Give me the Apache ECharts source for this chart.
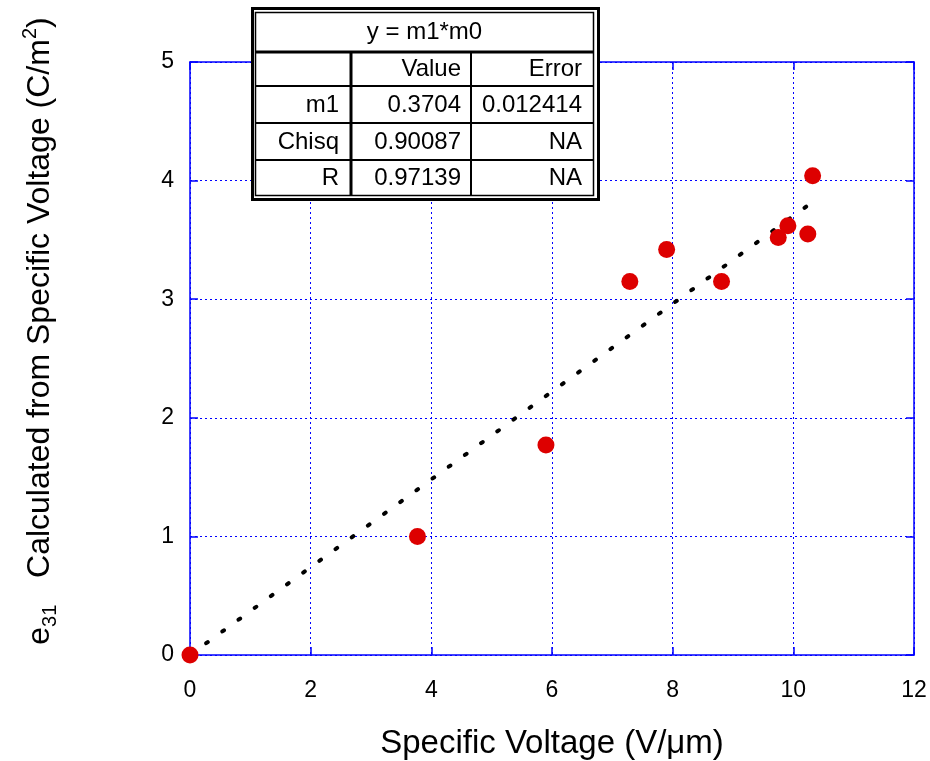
<!DOCTYPE html>
<html>
<head>
<meta charset="utf-8">
<script src="https://cdn.jsdelivr.net/npm/echarts@6/dist/echarts.min.js"></script>
<style>
html,body{margin:0;padding:0;background:#fff;}
#chart{width:930px;height:761px;}
</style>
</head>
<body>
<div id="chart"></div>
<script>
// ---- data ----
const xTickValues = [0, 2, 4, 6, 8, 10, 12];
const yTickValues = [0, 1, 2, 3, 4, 5];
const voltage = [0, 3.77, 5.90, 7.29, 7.90, 8.81, 9.75, 9.91, 10.24, 10.32];
const e31 = [0, 1.00, 1.77, 3.15, 3.42, 3.15, 3.52, 3.62, 3.55, 4.04];
const fitX = [0, 10.32];
const fitY = [0, 3.82];
const tableTitle = 'y = m1*m0';
const tableHeader = ['', 'Value', 'Error'];
const tableRowNames = ['m1', 'Chisq', 'R'];
const tableValues = ['0.3704', '0.90087', '0.97139'];
const tableErrors = ['0.012414', 'NA', 'NA'];
const xTitle = 'Specific Voltage (V/\u03bcm)';

const FONT = '"Liberation Sans", Arial, sans-serif';
const BLUE = '#0000ff';

const points = voltage.map((v, i) => [v, e31[i]]);
const fitLine = fitX.map((v, i) => [v, fitY[i]]);

// ---- table graphic ----
const tbl = [];
const L = 251, T = 7, R = 600, B = 201;
tbl.push({type:'rect', shape:{x:L+1.5, y:T+1.5, width:R-L-3, height:B-T-3}, style:{fill:'#fff', stroke:'#000', lineWidth:3}, z:100});
tbl.push({type:'rect', shape:{x:255.5, y:12.5, width:338, height:183}, style:{fill:'none', stroke:'#000', lineWidth:1.5}, z:101});
const hl = (y, w) => tbl.push({type:'line', shape:{x1:255, y1:y, x2:594, y2:y}, style:{stroke:'#000', lineWidth:w}, z:101});
const vl = (x, w) => tbl.push({type:'line', shape:{x1:x, y1:52, x2:x, y2:196}, style:{stroke:'#000', lineWidth:w}, z:101});
hl(52, 3); hl(86, 2); hl(123, 2); hl(160, 2);
vl(351, 3); vl(471, 2);
const txt = (s, x, y, align) => tbl.push({type:'text', x:x, y:y, style:{text:s, fill:'#000', font:'24px ' + FONT, align:align, verticalAlign:'middle'}, z:102});
txt(tableTitle, 424.5, 32.5, 'center');
const colRight = [339, 461, 582];
const rowCenter = [69.5, 105, 142, 178];
tableHeader.forEach((h, i) => { if (h) txt(h, colRight[i], rowCenter[0], 'right'); });
tableRowNames.forEach((n, r) => {
  txt(n, colRight[0], rowCenter[r+1], 'right');
  txt(tableValues[r], colRight[1], rowCenter[r+1], 'right');
  txt(tableErrors[r], colRight[2], rowCenter[r+1], 'right');
});

// ---- y title (rotated, rich text) ----
const yTitle = {
  type:'text', x:40, y:331, rotation:Math.PI/2, z:50,
  style:{
    text:'{b|e}{s|31}{b|   Calculated from Specific Voltage (C/m}{p|2}{b|)}',
    align:'center', verticalAlign:'middle', fill:'#000',
    rich:{
      b:{fontSize:32, fontFamily:FONT, lineHeight:40, fill:'#000'},
      s:{fontSize:20, fontFamily:FONT, lineHeight:4, verticalAlign:'bottom', fill:'#000'},
      p:{fontSize:20, fontFamily:FONT, lineHeight:10, verticalAlign:'top', fill:'#000'}
    }
  }
};

const axisCommon = {
  type:'value',
  axisLine:{show:true, onZero:false, lineStyle:{color:BLUE, width:1.5}},
  axisTick:{show:true, inside:true, length:8, lineStyle:{color:BLUE, width:1.5}},
};

const chart = echarts.init(document.getElementById('chart'), null, {renderer:'canvas'});
chart.setOption({
  animation:false,
  backgroundColor:'#fff',
  grid:{left:190, top:62, width:724, height:593, containLabel:false, outerBoundsMode:'none'},
  xAxis:[
    Object.assign({}, axisCommon, {
      min:xTickValues[0], max:xTickValues[xTickValues.length-1], interval:2, position:'bottom',
      axisLabel:{color:'#000', fontSize:23, fontFamily:FONT, margin:24},
      splitLine:{show:true, lineStyle:{color:BLUE, width:1, type:[2,3]}},
      name:xTitle, nameLocation:'middle', nameGap:72,
      nameTextStyle:{color:'#000', fontSize:33, fontFamily:FONT}
    }),
    Object.assign({}, axisCommon, {
      min:xTickValues[0], max:xTickValues[xTickValues.length-1], interval:2, position:'top',
      axisLabel:{show:false}, splitLine:{show:false}
    })
  ],
  yAxis:[
    Object.assign({}, axisCommon, {
      min:yTickValues[0], max:yTickValues[yTickValues.length-1], interval:1, position:'left',
      axisLabel:{color:'#000', fontSize:23, fontFamily:FONT, margin:16},
      splitLine:{show:true, lineStyle:{color:BLUE, width:1, type:[2,3]}}
    }),
    Object.assign({}, axisCommon, {
      min:yTickValues[0], max:yTickValues[yTickValues.length-1], interval:1, position:'right',
      axisLabel:{show:false}, splitLine:{show:false}
    })
  ],
  series:[
    {
      type:'line', data:fitLine, xAxisIndex:0, yAxisIndex:0,
      showSymbol:false, symbol:'none', silent:true, z:3,
      lineStyle:{color:'#000', width:4, type:[2,18], cap:'round'}
    },
    {
      type:'scatter', data:points, xAxisIndex:0, yAxisIndex:0,
      symbol:'circle', symbolSize:17, z:5,
      itemStyle:{color:'#dd0000', opacity:1}
    }
  ],
  graphic:[yTitle].concat(tbl)
});
</script>
</body>
</html>
